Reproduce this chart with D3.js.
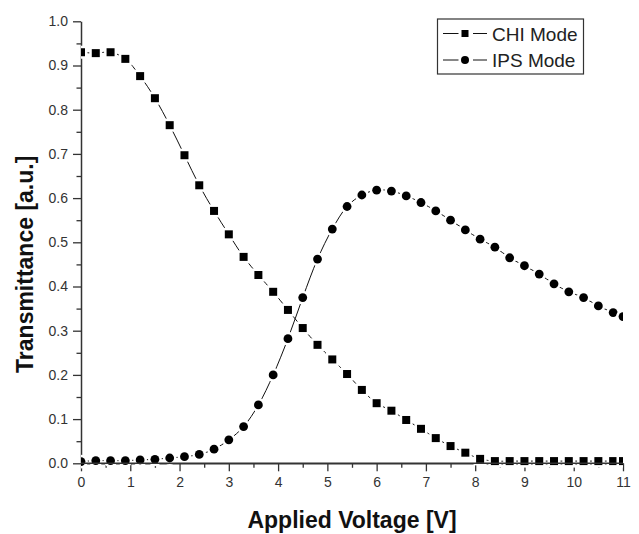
<!DOCTYPE html>
<html>
<head>
<meta charset="utf-8">
<script src="https://cdn.jsdelivr.net/npm/d3@7"></script>
<style>
body { margin: 0; background: #fff; }
text { font-family: Arial, "Liberation Sans", sans-serif; }
</style>
</head>
<body>
<div class="chart"></div>
<script>
var voltage = [0, 0.3, 0.6, 0.9, 1.2, 1.5, 1.8, 2.1, 2.4, 2.7, 3.0, 3.3, 3.6, 3.9, 4.2, 4.5, 4.8, 5.1, 5.4, 5.7,
    6.0, 6.3, 6.6, 6.9, 7.2, 7.5, 7.8, 8.1, 8.4, 8.7, 9.0, 9.3, 9.6, 9.9, 10.2, 10.5, 10.8, 11]

var chiMode = [0.930, 0.928, 0.930, 0.915, 0.876, 0.826, 0.765, 0.697, 0.629, 0.571, 0.518, 0.467, 0.426, 0.388,
    0.347, 0.306, 0.268, 0.235, 0.202, 0.166, 0.136, 0.119, 0.098, 0.078, 0.057, 0.039, 0.024, 0.010,
    0.005, 0.005, 0.005, 0.005, 0.005, 0.005, 0.005, 0.005, 0.005, 0.005]

var ipsMode = [0.004, 0.006, 0.006, 0.006, 0.0075, 0.009, 0.012, 0.015, 0.020, 0.032, 0.053, 0.083, 0.132, 0.200,
    0.282, 0.375, 0.462, 0.530, 0.581, 0.607, 0.618, 0.616, 0.605, 0.590, 0.571, 0.550, 0.528, 0.507,
    0.489, 0.465, 0.447, 0.428, 0.406, 0.388, 0.375, 0.356, 0.341, 0.332]

var xTicks = [0, 1, 2, 3, 4, 5, 6, 7, 8, 9, 10, 11]
var yTicks = [0.0, 0.1, 0.2, 0.3, 0.4, 0.5, 0.6, 0.7, 0.8, 0.9, 1.0]
var seriesNames = ['CHI Mode', 'IPS Mode']

var width = 639
var height = 534
var margin = {left: 81, right: 16, top: 21.3, bottom: 70.7}

var svg = d3.select('.chart')
    .append('svg')
    .attr('width', width)
    .attr('height', height)

var x = d3.scaleLinear().domain([0, 11]).range([margin.left, width - margin.right])
var y = d3.scaleLinear().domain([0, 1]).range([height - margin.bottom, margin.top])

var axisColor = '#333'

// minor ticks first, majors drawn by the axis on top
var xMinor = xTicks.slice(0, -1).map(d => d + 0.5)
var yMinor = yTicks.slice(0, -1).map(d => d + 0.05)

svg.append('g')
    .attr('transform', `translate(0,${y(0)})`)
    .call(d3.axisBottom(x).tickValues(xMinor).tickSize(4.5).tickFormat(''))
    .call(g => g.select('.domain').remove())
    .selectAll('line').attr('stroke', axisColor).attr('stroke-width', 1.3)

svg.append('g')
    .attr('transform', `translate(${x(0)},0)`)
    .call(d3.axisLeft(y).tickValues(yMinor).tickSize(4.5).tickFormat(''))
    .call(g => g.select('.domain').remove())
    .selectAll('line').attr('stroke', axisColor).attr('stroke-width', 1.3)

var xAxis = svg.append('g')
    .attr('transform', `translate(0,${y(0)})`)
    .call(d3.axisBottom(x).tickValues(xTicks).tickSize(8).tickSizeOuter(0).tickPadding(6).tickFormat(d3.format('d')))

var yAxis = svg.append('g')
    .attr('transform', `translate(${x(0)},0)`)
    .call(d3.axisLeft(y).tickValues(yTicks).tickSize(8).tickSizeOuter(0).tickPadding(5).tickFormat(d3.format('.1f')))

;[xAxis, yAxis].forEach(g => {
    g.select('.domain').attr('stroke', axisColor).attr('stroke-width', 1.5)
    g.selectAll('line').attr('stroke', axisColor).attr('stroke-width', 1.3)
    g.selectAll('text').attr('fill', '#333').style('font-size', '14px').style('font-family', 'Arial, "Liberation Sans", sans-serif')
})

svg.append('text')
    .attr('x', (x(0) + x(11)) / 2)
    .attr('y', 528)
    .attr('text-anchor', 'middle')
    .style('font-size', '23px')
    .style('font-weight', 'bold')
    .attr('fill', '#111')
    .text('Applied Voltage [V]')

svg.append('text')
    .attr('transform', `translate(33,${(y(0) + y(1)) / 2 + 22}) rotate(-90)`)
    .attr('text-anchor', 'middle')
    .style('font-size', '23px')
    .style('font-weight', 'bold')
    .attr('fill', '#111')
    .text('Transmittance [a.u.]')

svg.append('clipPath')
    .attr('id', 'plotclip')
    .append('rect')
    .attr('x', x(0))
    .attr('y', 0)
    .attr('width', x(11) - x(0))
    .attr('height', height)

var plot = svg.append('g').attr('clip-path', 'url(#plotclip)')

var line = d3.line()
    .x(d => x(d[0]))
    .y(d => y(d[1]))
    .curve(d3.curveCatmullRom)

var chiData = voltage.map((v, i) => [v, chiMode[i]])
var ipsData = voltage.map((v, i) => [v, ipsMode[i]])

plot.append('path')
    .datum(chiData)
    .attr('fill', 'none')
    .attr('stroke', '#111')
    .attr('stroke-width', 1)
    .attr('d', line)

plot.append('path')
    .datum(ipsData)
    .attr('fill', 'none')
    .attr('stroke', '#111')
    .attr('stroke-width', 1)
    .attr('d', line)

// white halo round each symbol gives the gaps in the connecting line
plot.selectAll('.sq')
    .data(chiData)
    .enter().append('rect')
    .attr('class', 'sq')
    .attr('x', d => x(d[0]) - 4)
    .attr('y', d => y(d[1]) - 4)
    .attr('width', 8)
    .attr('height', 8)
    .attr('fill', '#000')
    .attr('stroke', '#fff')
    .attr('stroke-width', 5)
    .style('paint-order', 'stroke')

plot.selectAll('.dot')
    .data(ipsData)
    .enter().append('circle')
    .attr('class', 'dot')
    .attr('cx', d => x(d[0]))
    .attr('cy', d => y(d[1]))
    .attr('r', 4.4)
    .attr('fill', '#000')
    .attr('stroke', '#fff')
    .attr('stroke-width', 5)
    .style('paint-order', 'stroke')

// redraw x axis line over the halos
svg.append('line')
    .attr('x1', x(0)).attr('x2', x(11))
    .attr('y1', y(0)).attr('y2', y(0))
    .attr('stroke', axisColor).attr('stroke-width', 1.5)

// legend
var legend = svg.append('g').attr('class', 'legend')

legend.append('rect')
    .attr('x', 437.5)
    .attr('y', 19)
    .attr('width', 146)
    .attr('height', 55)
    .attr('fill', '#fff')
    .attr('stroke', '#333')
    .attr('stroke-width', 1.2)

seriesNames.forEach((name, i) => {
    var ly = 33.5 + i * 26.5
    legend.append('line')
        .attr('x1', 443).attr('x2', 458.5)
        .attr('y1', ly).attr('y2', ly)
        .attr('stroke', '#111').attr('stroke-width', 1)
    legend.append('line')
        .attr('x1', 473).attr('x2', 487)
        .attr('y1', ly).attr('y2', ly)
        .attr('stroke', '#111').attr('stroke-width', 1)
    if (i == 0) {
        legend.append('rect')
            .attr('x', 465 - 3.5).attr('y', ly - 3.5)
            .attr('width', 7).attr('height', 7)
            .attr('fill', '#000')
    } else {
        legend.append('circle')
            .attr('cx', 465).attr('cy', ly)
            .attr('r', 4)
            .attr('fill', '#000')
    }
    legend.append('text')
        .attr('x', 492)
        .attr('y', ly + 7)
        .style('font-size', '19px')
        .attr('fill', '#222')
        .text(name)
})
</script>
</body>
</html>
